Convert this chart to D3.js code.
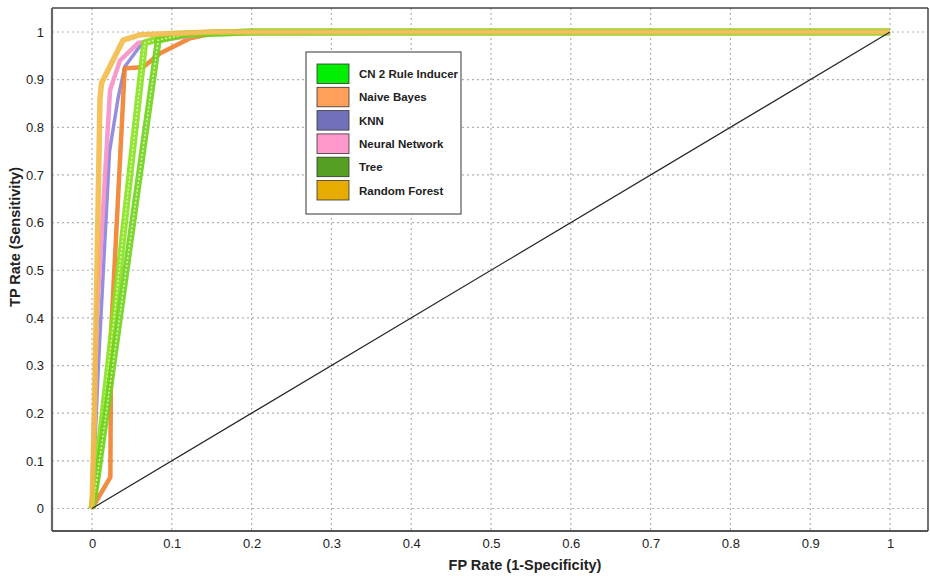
<!DOCTYPE html>
<html><head><meta charset="utf-8">
<script src="https://cdn.jsdelivr.net/npm/d3@7"></script>
<style>body{margin:0;background:#fff;} svg{display:block;}</style>
</head><body><svg id="c" width="930" height="576"></svg>
<script>
const xTicks = [0,0.1,0.2,0.3,0.4,0.5,0.6,0.7,0.8,0.9,1];
const yTicks = [0,0.1,0.2,0.3,0.4,0.5,0.6,0.7,0.8,0.9,1];
const seriesNames = ["CN 2 Rule Inducer","Naive Bayes","KNN","Neural Network","Tree","Random Forest"];
const legendColors = ["#00ee00","#ff9f5a","#7070bb","#ff99cc","#55a022","#e6ad00"];
const lineColors = ["#86e21e","#f07f2c","#8a82dc","#f590c8","#6fd11c","#f2bb48"];
// ROC points (FP rate, TP rate)
const cn2X = [0,0.004,0.066,0.10,0.20,1];
const cn2Y = [0,0.05,0.977,0.995,1,1];
const nbX = [0,0.023,0.024,0.041,0.064,0.085,0.123,0.16,1];
const nbY = [0,0.066,0.37,0.924,0.926,0.955,0.987,1,1];
const knnX = [0,0.008,0.022,0.033,0.041,0.063,0.10,0.20,1];
const knnY = [0,0.30,0.75,0.864,0.927,0.977,0.995,1,1];
const nnX = [0,0.006,0.0226,0.035,0.058,0.15,1];
const nnY = [0,0.40,0.878,0.94,0.977,0.998,1];
const treeX = [0,0.006,0.083,0.12,0.20,1];
const treeY = [0,0.06,0.983,0.996,1,1];
const rfX = [0,0.003,0.010,0.012,0.039,0.060,0.15,1];
const rfY = [0,0.20,0.86,0.893,0.983,0.994,1,1];
const diagX = [0,1];
const diagY = [0,1];

const svg = d3.select("#c");
const font = "'Liberation Sans', Arial, sans-serif";
const frame = {l:52, t:8, r:928, b:531};
const x = d3.scaleLinear().domain([0,1]).range([92,890]);
const y = d3.scaleLinear().domain([0,1]).range([508.5,32]);

// grid
const g = svg.append("g");
g.selectAll(".vg").data(xTicks).join("line")
  .attr("x1",d=>x(d)).attr("x2",d=>x(d)).attr("y1",frame.t).attr("y2",frame.b)
  .attr("stroke","#b0b0b0").attr("stroke-width",1.2).attr("stroke-dasharray","2,3");
g.selectAll(".hg").data(yTicks).join("line")
  .attr("y1",d=>y(d)).attr("y2",d=>y(d)).attr("x1",frame.l).attr("x2",frame.r)
  .attr("stroke","#b0b0b0").attr("stroke-width",1.2).attr("stroke-dasharray","2,3");

// axes labels via d3 axes (no lines)
const xAxis = svg.append("g").attr("transform",`translate(0,${frame.b})`)
  .call(d3.axisBottom(x).tickValues(xTicks).tickFormat(d=>String(d)).tickSize(0).tickPadding(8));
xAxis.select(".domain").remove();
xAxis.selectAll("text").attr("font-family",font).attr("font-size",13).attr("fill","#222");
const yAxis = svg.append("g").attr("transform",`translate(${frame.l},0)`)
  .call(d3.axisLeft(y).tickValues(yTicks).tickFormat(d=>String(d)).tickSize(0).tickPadding(8));
yAxis.select(".domain").remove();
yAxis.selectAll("text").attr("font-family",font).attr("font-size",13).attr("fill","#222");

// curves
const line = d3.line().x(d=>x(d[0])).y(d=>y(d[1]));
const zip = (a,b)=>a.map((v,i)=>[v,b[i]]);
const series = [
  {pts:zip(knnX,knnY), c:lineColors[2], w:3.5},
  {pts:zip(nbX,nbY), c:lineColors[1], w:4.5},
  {pts:zip(nnX,nnY), c:lineColors[3], w:4.5},
  {pts:zip(cn2X,cn2Y), c:lineColors[0], w:7, band:true},
  {pts:zip(treeX,treeY), c:lineColors[4], w:7, band:true},
  {pts:zip(rfX,rfY), c:lineColors[5], w:5.5}
];
const cg = svg.append("g");
series.forEach(s=>{
  cg.append("path").attr("d",line(s.pts)).attr("fill","none")
    .attr("stroke",s.c).attr("stroke-width",s.w).attr("stroke-linejoin","round")
    .attr("stroke-opacity",0.9);
  if(s.band){
    cg.append("path").attr("d",line(s.pts)).attr("fill","none")
      .attr("stroke","#d8f7a8").attr("stroke-width",1.5).attr("stroke-dasharray","2,2");
  }
});
// grey baseline under top
cg.append("path").attr("d",line(zip(rfX,rfY).slice(5))).attr("fill","none")
  .attr("stroke","#f2c060").attr("stroke-width",3);

// diagonal
svg.append("path").attr("d",line(zip(diagX,diagY))).attr("fill","none")
  .attr("stroke","#222").attr("stroke-width",1.2);

// frame
svg.append("line").attr("x1",frame.l).attr("x2",frame.r).attr("y1",frame.t).attr("y2",frame.t).attr("stroke","#444").attr("stroke-width",1.5);
svg.append("line").attr("x1",frame.r).attr("x2",frame.r).attr("y1",frame.t).attr("y2",frame.b).attr("stroke","#444").attr("stroke-width",1.5);
svg.append("line").attr("x1",frame.l).attr("x2",frame.l).attr("y1",frame.t).attr("y2",frame.b).attr("stroke","#666").attr("stroke-width",2.2);
svg.append("line").attr("x1",frame.l).attr("x2",frame.r).attr("y1",frame.b).attr("y2",frame.b).attr("stroke","#555").attr("stroke-width",2.2);

// axis titles
svg.append("text").attr("x",525).attr("y",570).attr("text-anchor","middle")
  .attr("font-family",font).attr("font-weight","bold").attr("font-size",14.5).attr("fill","#222")
  .text("FP Rate (1-Specificity)");
svg.append("text").attr("transform","translate(20,237) rotate(-90)").attr("text-anchor","middle")
  .attr("font-family",font).attr("font-weight","bold").attr("font-size",14.5).attr("fill","#222")
  .text("TP Rate (Sensitivity)");

// legend
const lg = svg.append("g");
lg.append("rect").attr("x",306).attr("y",52).attr("width",155).attr("height",162)
  .attr("fill","#fff").attr("stroke","#555").attr("stroke-width",1.2);
const items = lg.selectAll(".li").data(seriesNames).join("g")
  .attr("transform",(d,i)=>`translate(317,${64+i*23.3})`);
items.append("rect").attr("width",32).attr("height",19.5)
  .attr("fill",(d,i)=>legendColors[i]).attr("stroke","#333").attr("stroke-width",0.8);
items.append("text").attr("x",42).attr("y",14).attr("font-family",font)
  .attr("font-weight","bold").attr("font-size",11.5).attr("fill","#222").text(d=>d);
</script></body></html>
